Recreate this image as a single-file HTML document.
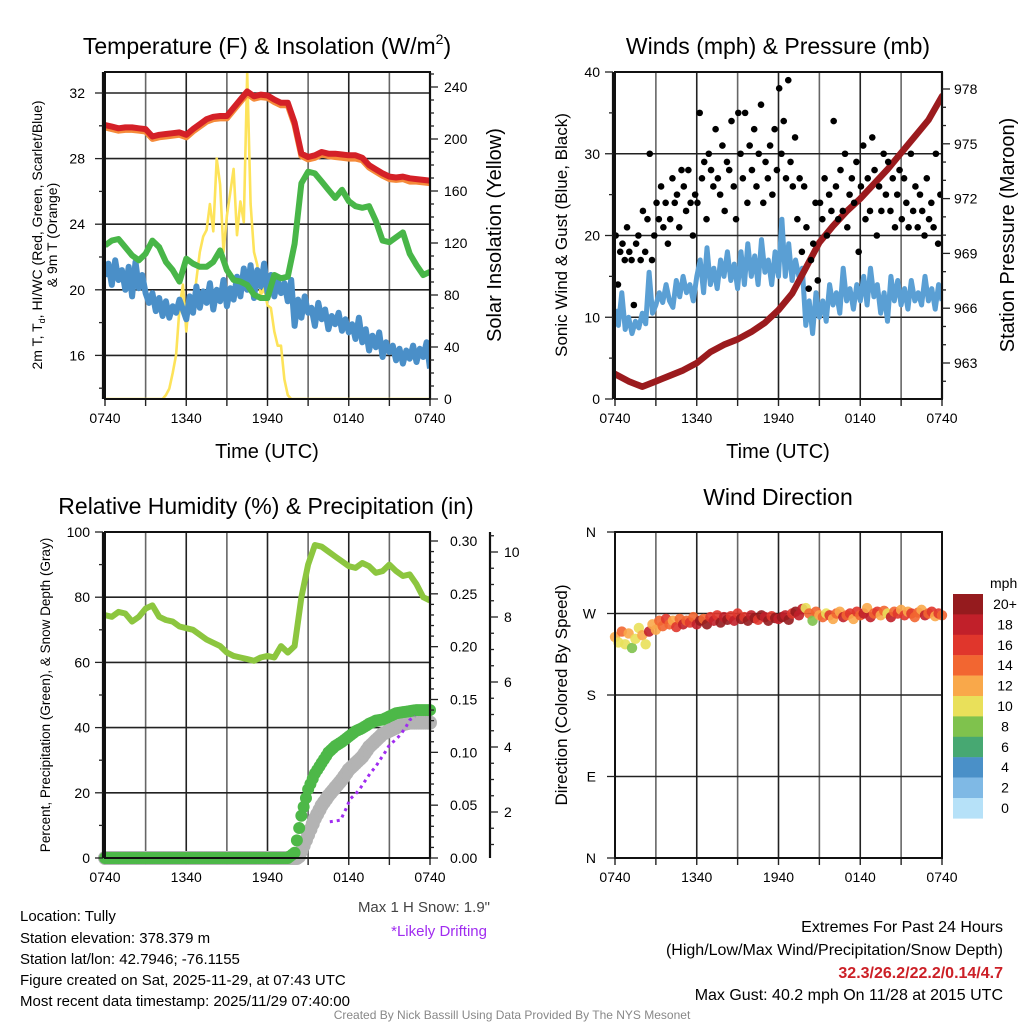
<!DOCTYPE html>
<html><head><meta charset="utf-8"><style>
html,body{margin:0;padding:0;background:#fff}
svg{display:block;font-family:"Liberation Sans",sans-serif}
</style></head><body>
<svg id="fig" width="1024" height="1024" viewBox="0 0 1024 1024" xmlns="http://www.w3.org/2000/svg">
<rect width="1024" height="1024" fill="#fff"/>
<g id="layer"></g>
<text x="267" y="54" font-size="23" text-anchor="middle">Temperature (F) &amp; Insolation (W/m<tspan font-size="14" dy="-10">2</tspan><tspan dy="10">)</tspan></text>
<text x="778" y="54" font-size="23" text-anchor="middle">Winds (mph) &amp; Pressure (mb)</text>
<text x="266" y="514" font-size="23" text-anchor="middle">Relative Humidity (%) &amp; Precipitation (in)</text>
<text x="778" y="505" font-size="23" text-anchor="middle">Wind Direction</text>
<text x="267" y="458" font-size="20" text-anchor="middle">Time (UTC)</text>
<text x="778" y="458" font-size="20" text-anchor="middle">Time (UTC)</text>
<text font-size="14" text-anchor="middle" transform="translate(42,235) rotate(-90)">2m T, T<tspan font-size="9" dy="3">d</tspan><tspan dy="-3">, HI/WC (Red, Green, Scarlet/Blue)</tspan></text>
<text font-size="14" text-anchor="middle" transform="translate(57,235) rotate(-90)">&amp; 9m T (Orange)</text>
<text font-size="20" text-anchor="middle" transform="translate(501,235) rotate(-90)">Solar Insolation (Yellow)</text>
<text font-size="17" text-anchor="middle" transform="translate(567,235) rotate(-90)">Sonic Wind &amp; Gust (Blue, Black)</text>
<text font-size="20" text-anchor="middle" transform="translate(1014,235) rotate(-90)">Station Pressure (Maroon)</text>
<text font-size="13.5" text-anchor="middle" transform="translate(50,695) rotate(-90)">Percent, Precipitation (Green), &amp; Snow Depth (Gray)</text>
<text font-size="17" text-anchor="middle" transform="translate(567,695) rotate(-90)">Direction (Colored By Speed)</text>
<g font-size="15">
<text x="20" y="921">Location: Tully</text>
<text x="20" y="943">Station elevation: 378.379 m</text>
<text x="20" y="964">Station lat/lon: 42.7946; -76.1155</text>
<text x="20" y="985">Figure created on Sat, 2025-11-29, at 07:43 UTC</text>
<text x="20" y="1006">Most recent data timestamp: 2025/11/29 07:40:00</text>
</g>
<text x="490" y="912" font-size="15" fill="#444" text-anchor="end">Max 1 H Snow: 1.9"</text>
<text x="487" y="936" font-size="15" fill="#a02cf0" text-anchor="end">*Likely Drifting</text>
<g font-size="16" text-anchor="end">
<text x="1003" y="932">Extremes For Past 24 Hours</text>
<text x="1003" y="955">(High/Low/Max Wind/Precipitation/Snow Depth)</text>
<text x="1003" y="978" fill="#cc2027" font-weight="bold">32.3/26.2/22.2/0.14/4.7</text>
<text x="1003" y="1000">Max Gust: 40.2 mph On 11/28 at 2015 UTC</text>
</g>
<text x="512" y="1019" font-size="12" fill="#888" text-anchor="middle">Created By Nick Bassill Using Data Provided By The NYS Mesonet</text>
</svg>
<script>
const timeLabels = ["0740","1340","1940","0140","0740"];
const tempRed = [30.05,29.95,29.85,29.9,29.9,29.85,29.8,29.35,29.45,29.5,29.55,29.6,29.45,29.8,30.1,30.4,30.55,30.6,30.6,31.1,31.6,32.1,31.8,31.9,31.85,31.6,31.4,31.4,30.2,28.3,28.1,28.2,28.4,28.3,28.3,28.25,28.2,28.2,28.05,27.6,27.35,27.1,26.9,26.85,26.9,26.8,26.75,26.7,26.65];
const tempOrange = [29.9,29.8,29.7,29.75,29.75,29.7,29.65,29.2,29.3,29.35,29.4,29.45,29.3,29.65,29.95,30.25,30.4,30.45,30.45,30.95,31.45,31.95,31.65,31.75,31.7,31.45,31.25,31.25,30.05,28.15,27.95,28.05,28.25,28.15,28.1,28.05,28.0,28.0,27.9,27.45,27.2,26.95,26.75,26.7,26.75,26.6,26.6,26.55,26.5];
const dewGreen = [22.7,23.0,23.1,22.6,22.1,21.8,22.2,23.0,22.6,21.7,21.2,20.5,21.9,21.6,21.4,21.4,21.7,22.4,21.2,20.6,20.5,20.3,19.7,19.5,19.5,20.9,20.7,20.8,22.8,26.5,27.2,27.1,26.6,26.1,25.6,26.1,25.4,25.1,25.0,25.1,24.2,23.0,22.9,23.2,23.5,22.2,21.5,20.9,21.1];
const chillBlue = [20.8,21.6,20.3,21.8,20.6,21.2,20.0,21.4,19.6,21.7,20.1,20.9,19.8,
19.2,19.8,18.7,19.5,18.4,19.3,18.3,19.0,18.6,19.4,18.8,18.2,
19.6,18.6,20.2,18.9,19.9,19.2,20.4,18.8,20.0,19.3,20.6,19.0,
20.1,19.4,20.8,19.6,21.3,20.0,21.5,19.5,21.2,20.2,21.6,19.8,
20.9,19.6,20.6,19.8,20.4,19.3,20.6,17.8,19.4,18.3,19.6,18.6,
18.9,17.8,19.2,18.2,18.8,17.6,18.4,17.9,18.6,17.5,18.2,17.4,
17.9,17.0,18.3,16.8,17.6,16.3,17.2,16.5,17.4,15.9,16.8,16.2,
16.6,15.7,16.4,15.5,16.3,15.8,16.6,15.6,16.4,15.9,16.8,15.2];
const solar = [0,0,0,0,0,0,0,0,0,0,0,0,0,0,0,0,0,0,3,8,20,34,70,88,52,80,70,92,113,125,130,150,129,185,165,113,141,159,177,126,152,136,251,150,113,103,80,85,72,70,52,41,41,15,3,0,0,0,0,0,0,0,0,0,0,0,0,0,0,0,0,0,0,0,0,0,0,0,0,0,0,0,0,0,0,0,0,0,0,0,0,0,0,0,0,0,0];
const pressure = [962.4,962.0,961.7,962.0,962.3,962.6,963.0,963.6,964.0,964.3,964.7,965.2,965.9,966.8,968.2,969.6,970.5,971.3,972.0,972.8,973.6,974.5,975.4,976.3,977.6];
const sonicWind = [11,9,13,8.5,10,8,9.5,8.7,10.5,9.2,15.5,10.5,11.5,
13,11.8,14,12,11.2,14.5,12.5,15,13,14,12,15,
17,13,18.5,14,16,13.5,17,15,18,14.5,16.5,13.5,
18,14,19,15,17.5,14,19.5,15.5,17,14,18,15,
22,15,19,14.5,17,15,16,9,12,8,13,10,
12,9.5,14,11.5,13,10.5,16,12,13.5,11,14,12,
15,11.5,16,12.5,14,10.5,13,9.5,15,12,14.5,11.5,
13.5,11,14.5,12,13,11.5,15,12,13.5,11,14,12];
const gusts = [20,14,18,19,17,21, 18,17,11.5,19,20,17, 23,18,22,30,17,20, 24,22,26,21,24,19,
22,27,24,25,21,28, 26,23,28,24,20,25, 24,35,27,29,22,30, 28,26,33,27,25,31,
23,29,28,34,26,22, 35,30,27,35,24,31, 28,33,26,30,36,24, 29,27,31,25,33,28,
38,30,34,27,39,29, 26,32,22,27,18,26, 21,13.5,17,19,24,14.5, 24,22,27,20,25,23,
34,26,22,28,23,30, 21,25,27,24,29,18, 26,31,22,27,23,32, 28,20,26,23,30,25,
29,23,27,21,25,28, 22,27,24,21,30,23, 26,21,25,23,20,27, 22,24,21,30,19,25];
const rh = [74.5,74,75.5,75,72.5,74,76.5,77.5,74,73,72.5,71,70.5,70,68.5,67,66,65,63,62,61.5,61,60.5,61.5,62,61.5,65,63,65,80,90,96,95.5,94,92.5,91,89.5,89,90.5,89.5,87.5,88,90,88,86.5,87,84,80,79];
const precip = [0,0,0,0,0,0,0,0,0,0,0,0,0,0,0,0,0,0,0,0,0,0,0,0,0,0,0,0,0.005,0.04,0.065,0.08,0.09,0.1,0.106,0.11,0.115,0.12,0.123,0.127,0.13,0.131,0.134,0.137,0.138,0.139,0.14,0.14,0.14];
const snow = [0,0,0,0,0,0,0,0,0,0,0,0,0,0,0,0,0,0,0,0,0,0,0,0,0,0,0,0,0.3,0.8,1.3,1.8,2.2,2.5,2.75,3.0,3.3,3.5,3.7,4.0,4.2,4.4,4.5,4.6,4.7,4.75,4.75,4.75,4.75];
const driftTimes = [16.6,17.0,17.4,17.8,18.1,18.5,18.8,19.2,19.6,20.0,20.3,20.7,21.0,21.4,21.8,22.2,22.5,22.9];
const driftSnow = [1.7,1.72,1.75,2.1,2.4,2.55,2.7,2.95,3.2,3.4,3.6,3.85,4.06,4.2,4.37,4.6,4.83,4.95];
const windDir = [244,238,250,236,248,232,242,254,246,236,250,258,252,
262,256,264,258,262,255,264,258,262,260,266,258,
262,264,258,266,262,268,260,266,263,267,262,270,
264,266,262,268,265,263,268,266,262,267,265,264,
266,268,263,270,272,268,275,276,270,262,272,268,
266,270,268,264,270,272,266,268,270,264,272,268,
270,276,266,270,272,268,273,270,266,272,270,274,
268,272,270,266,271,274,268,270,272,267,270,268];
const speedLabels = ["20+","18","16","14","12","10","8","6","4","2","0"];
const speedColors = ["#951b1e","#c1202a","#e0362c","#f26631","#f9a84a","#e9e05a","#7fc24d","#47a872","#4a90c8","#7fb9e5","#b6e1f8"];
const dirLabels = ["N","E","S","W","N"];

const NS="http://www.w3.org/2000/svg";
const layer=document.getElementById('layer');
function mk(tag,attrs,parent){const e=document.createElementNS(NS,tag);for(const k in attrs)e.setAttribute(k,attrs[k]);(parent||layer).appendChild(e);return e;}
function lin(d0,d1,r0,r1){return v=>r0+(v-d0)*(r1-r0)/(d1-d0);}
function pathOf(ts,vs,sx,sy){return vs.map((v,i)=>(i?'L':'M')+sx(ts[i]).toFixed(1)+','+sy(v).toFixed(1)).join('');}
function steps(n,dt){return Array.from({length:n},(_,i)=>i*dt);}

function panelFrame(name,x0,x1,y0,y1){
  const sx=lin(0,24,x0,x1);
  const g=mk('g',{});
  
  
  for(let h=0;h<=24;h+=3){
    mk('line',{x1:sx(h),x2:sx(h),y1:y0,y2:y1,stroke:(h%6==0)?'#222':'#666','stroke-width':1.6},g);
    mk('line',{x1:sx(h),x2:sx(h),y1:y1,y2:y1+7,stroke:'#222','stroke-width':1.4},g);
  }
  timeLabels.forEach((l,i)=>{
    const t=mk('text',{x:sx(i*6),y:y1+24,'font-size':14,'text-anchor':'middle'});
    
    
    t.textContent=l;
  });
  return sx;
}
function hgrid(ys,x0,x1){ys.forEach(y=>mk('line',{x1:x0,x2:x1,y1:y,y2:y,stroke:'#222','stroke-width':1.6}));}
function yAxis(name,x,y0,y1,sy,major,minor,lo,hi,side,fmt,dxLabel){
  const g=mk('g',{});
  
  
  mk('line',{x1:x,x2:x,y1:y0,y2:y1,stroke:'#111','stroke-width':2.2},g);
  const dir=side==='left'?-1:1;
  for(let v=lo;v<=hi+1e-9;v+=minor){
    const y=sy(v); if(y<y0-0.5||y>y1+0.5)continue;
    const isMaj=Math.abs(v/major-Math.round(v/major))<1e-6;
    mk('line',{x1:x,x2:x+dir*(isMaj?8:4),y1:y,y2:y,stroke:'#222','stroke-width':1.3},g);
    if(isMaj){
      const t=mk('text',{x:x+dir*(dxLabel||12),y:y+5,'font-size':14,'text-anchor':side==='left'?'end':'start'},g);
      t.textContent=fmt(v);
    }
  }
}
function box(name,x0,x1,y0,y1){
  const r=mk('rect',{x:x0,y:y0,width:x1-x0,height:y1-y0,fill:'none',stroke:'#111','stroke-width':2});
  
  
}

(function(){
  const x0=105,x1=430,y0=72,y1=399;
  const sx=panelFrame('temp',x0,x1,y0,y1);
  const sy=lin(32,16,93,355.4);
  const ss=lin(0,240,399,87);
  hgrid([16,20,24,28,32].map(sy),x0,x1);
  const clip=mk('clipPath',{id:'c1'});mk('rect',{x:x0,y:y0-3,width:x1-x0,height:y1-y0+3},clip);
  const g=mk('g',{'clip-path':'url(#c1)'});
  const t49=steps(49,0.5), t97=steps(97,0.25);
  const sol=mk('path',{d:pathOf(t97,solar,sx,ss),fill:'none',stroke:'#fde35a','stroke-width':2.6,'stroke-linejoin':'round'},g);
  
  
  const bl=mk('path',{d:pathOf(t97,chillBlue,sx,sy),fill:'none',stroke:'#4a8fc8','stroke-width':6,'stroke-linejoin':'round'},g);
  
  
  const gr=mk('path',{d:pathOf(t49,dewGreen,sx,sy),fill:'none',stroke:'#48b648','stroke-width':6,'stroke-linejoin':'round'},g);
  
  
  const or=mk('path',{d:pathOf(t49,tempOrange,sx,sy),fill:'none',stroke:'#f58a3a','stroke-width':6,'stroke-linejoin':'round'},g);
  
  
  const rd=mk('path',{d:pathOf(t49,tempRed,sx,sy),fill:'none',stroke:'#d42027','stroke-width':6,'stroke-linejoin':'round'},g);
  
  
  box('temp',x0,x1,y0,y1);
  yAxis('temp-y-axis',x0-2,y0,y1,sy,4,2,14,32,'left',v=>v,18);
  yAxis('solar-y-axis',x1,y0,y1,ss,40,10,0,250,'right',v=>v,14);
})();

(function(){
  const x0=615,x1=942,y0=72,y1=399;
  const sx=panelFrame('wind',x0,x1,y0,y1);
  const sy=lin(0,40,399,72);
  const sp=lin(978,963,89,363);
  hgrid([10,20,30].map(sy),x0,x1);
  const clip=mk('clipPath',{id:'c2'});mk('rect',{x:x0,y:y0,width:x1-x0,height:y1-y0},clip);
  const g=mk('g',{'clip-path':'url(#c2)'});
  const t97=steps(97,0.25), t25=steps(25,1);
  const bl=mk('path',{d:pathOf(t97,sonicWind,sx,sy),fill:'none',stroke:'#5a9fd4','stroke-width':5,'stroke-linejoin':'round'},g);
  
  
  const pr=mk('path',{d:pathOf(t25,pressure,sx,sp),fill:'none',stroke:'#9b1b1e','stroke-width':6.5,'stroke-linecap':'round','stroke-linejoin':'round'},g);
  
  
  gusts.forEach((v,i)=>{
    const c=mk('circle',{cx:sx(i/6+0.05),cy:sy(v),r:3.3,fill:'#000'},g);
    
    
  });
  box('wind',x0,x1,y0,y1);
  yAxis('wind-y-axis',x0-2,y0,y1,sy,10,5,0,40,'left',v=>v,13);
  yAxis('pressure-y-axis',x1,y0,y1,sp,3,1,961,979,'right',v=>v,12);
})();

(function(){
  const x0=105,x1=430,y0=532,y1=858;
  const sx=panelFrame('rh',x0,x1,y0,y1);
  const sy=lin(0,100,858,532);
  const sq=lin(0,0.30,858,541);
  const sn=lin(0,10,877,552);
  hgrid([20,40,60,80].map(sy),x0,x1);
  const t49=steps(49,0.5);
  const clip=mk('clipPath',{id:'c3'});mk('rect',{x:x0-10,y:y0,width:x1-x0+20,height:y1-y0+8},clip);
  const g=mk('g',{'clip-path':'url(#c3)'});
  snow.forEach((v,i)=>{for(let k=0;k<3;k++){
    const tt=t49[i]+k*0.17; if(tt>24.05)continue;
    const nv=i<48?v+(snow[i+1]-v)*k/3:v;
    const c=mk('circle',{cx:sx(tt),cy:Math.min(sn(nv),y1),r:7,fill:'#b3b3b3'},g);
    
    
  }});
  precip.forEach((v,i)=>{for(let k=0;k<3;k++){
    const tt=t49[i]+k*0.17; if(tt>24.05)continue;
    const nv=i<48?v+(precip[i+1]-v)*k/3:v;
    const c=mk('circle',{cx:sx(tt),cy:sq(nv),r:6,fill:'#4db848'},g);
    
    
  }});
  const dr=mk('path',{d:pathOf(driftTimes,driftSnow,sx,sn),fill:'none',stroke:'#a02cf0','stroke-width':3,'stroke-dasharray':'3 4'},g);
  
  
  const rl=mk('path',{d:pathOf(t49,rh,sx,sy),fill:'none',stroke:'#8cc63f','stroke-width':6,'stroke-linejoin':'round'},g);
  
  
  box('rh',x0,x1,y0,y1);
  yAxis('rh-y-axis',x0-2,y0,y1,sy,20,10,0,100,'left',v=>v,13);
  yAxis('precip-y-axis',x1,y0,y1,sq,0.05,0.01,0,0.30,'right',v=>v.toFixed(2),20);
  yAxis('snow-y-axis',490,y0,y1,sn,2,0.5,0.5,10.5,'right',v=>v,14);
})();

(function(){
  const x0=615,x1=942,y0=532,y1=858;
  const sx=panelFrame('direction',x0,x1,y0,y1);
  const sy=lin(0,360,858,532);
  hgrid([90,180,270].map(sy),x0,x1);
  const t97=steps(97,0.25);
  function col(s){const idx=Math.min(10,Math.max(0,Math.floor(s*1.2/2)));return speedColors[10-idx];}
  const g=mk('g',{});
  windDir.forEach((d,i)=>{
    const c=mk('circle',{cx:sx(t97[i]),cy:sy(d),r:5.2,fill:col(sonicWind[i]),'fill-opacity':0.9},g);
    
    
  });
  box('direction',x0,x1,y0,y1);
  const ax=mk('g',{});
  
  
  dirLabels.forEach((l,i)=>{
    mk('line',{x1:x0,x2:x0-8,y1:sy(i*90),y2:sy(i*90),stroke:'#222','stroke-width':1.3},ax);
    const t=mk('text',{x:x0-19,y:sy(i*90)+5,'font-size':14,'text-anchor':'end'},ax);
    t.textContent=l;
  });
  const cb=mk('g',{});
  
  
  const ut=mk('text',{x:990,y:588,'font-size':14},cb);ut.textContent='mph';
  speedColors.forEach((c,i)=>{
    const r=mk('rect',{x:953,y:594+i*20.4,width:30,height:20.6,fill:c},cb);
    
    
    const t=mk('text',{x:1005,y:594+i*20.4+15,'font-size':14,'text-anchor':'middle'},cb);
    t.textContent=speedLabels[i];
  });
})();
</script>
</body></html>
